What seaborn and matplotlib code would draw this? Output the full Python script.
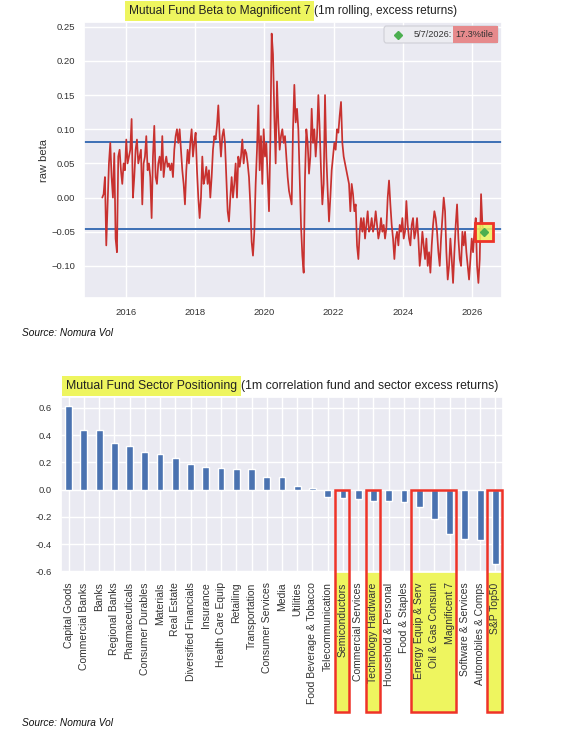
import numpy as np
import pandas as pd
import matplotlib
matplotlib.use("Agg")
import matplotlib.pyplot as plt
import matplotlib.dates as mdates
import matplotlib.ticker as mticker
import matplotlib.transforms as mtransforms
from matplotlib.patches import Rectangle, FancyBboxPatch
from matplotlib.lines import Line2D
import seaborn as sns

# ---------------- data: top chart ----------------
beta_start = "2015-04-25"
beta_end = "2026-05-07"
beta_values = [
    0.0, 0.005, 0.03, -0.07, -0.01, 0.05, 0.08, 0.03, 0.0, 0.065, -0.06, -0.08, 0.06, 0.07, 0.04,
    0.02, 0.05, 0.04, 0.085, 0.05, 0.06, 0.07, 0.115, 0.0, 0.03, 0.07, 0.085, 0.05, 0.06, 0.07,
    -0.01, 0.05, 0.06, 0.09, 0.04, 0.05, 0.03, -0.03, 0.06, 0.105, 0.03, 0.02, 0.05, 0.06, 0.04,
    0.09, 0.03, 0.05, 0.06, 0.045, 0.05, 0.04, 0.05, 0.03, 0.07, 0.09, 0.1, 0.08, 0.1, 0.07,
    0.04, 0.02, -0.01, 0.04, 0.07, 0.05, 0.08, 0.1, 0.06, 0.08, 0.095, 0.04, 0.0, -0.03, 0.0,
    0.06, 0.02, 0.03, 0.045, 0.02, 0.04, 0.0, 0.03, 0.07, 0.09, 0.085, 0.105, 0.135, 0.09, 0.06,
    0.09, 0.1, 0.08, 0.03, -0.02, -0.035, 0.0, 0.03, 0.0, 0.02, 0.05, 0.0, 0.06, 0.045, 0.06,
    0.085, 0.05, 0.07, 0.065, 0.05, 0.03, -0.01, -0.065, -0.085, -0.05, 0.02, 0.07, 0.135, 0.04, 0.09,
    0.02, 0.1, 0.06, 0.08, 0.03, -0.02, 0.08, 0.24, 0.21, 0.12, 0.05, 0.17, 0.11, 0.07, 0.09,
    0.1, 0.08, 0.09, 0.06, 0.03, 0.01, 0.0, -0.01, 0.1, 0.165, 0.11, 0.13, 0.1, 0.03, -0.04,
    -0.085, -0.11, 0.03, 0.1, 0.08, 0.035, 0.06, 0.13, 0.08, 0.1, 0.06, 0.09, 0.15, 0.1, 0.04,
    -0.01, 0.02, 0.15, 0.06, 0.01, -0.035, 0.0, 0.04, 0.06, 0.08, 0.07, 0.1, 0.095, 0.12, 0.14,
    0.08, 0.06, 0.05, 0.04, 0.03, 0.02, -0.02, 0.02, 0.005, -0.02, -0.01, -0.07, -0.09, -0.05, -0.03,
    -0.05, -0.03, -0.06, -0.04, -0.02, -0.05, -0.045, -0.03, -0.05, -0.04, -0.02, -0.04, -0.06, -0.05, -0.03,
    -0.05, -0.04, -0.06, -0.045, 0.0, 0.025, -0.01, -0.04, -0.06, -0.09, -0.06, -0.05, -0.07, -0.04, -0.05,
    -0.03, -0.06, -0.05, -0.005, -0.04, -0.06, -0.07, -0.04, -0.03, -0.06, -0.05, -0.03, -0.06, -0.1, -0.08,
    -0.05, -0.07, -0.09, -0.06, -0.1, -0.08, -0.11, -0.07, -0.04, -0.02, -0.03, -0.05, -0.08, -0.1, -0.06,
    -0.03, 0.0, -0.02, -0.08, -0.12, -0.1, -0.06, -0.09, -0.125, -0.08, -0.04, -0.01, -0.06, -0.09, -0.1,
    -0.05, -0.07, -0.05, -0.08, -0.1, -0.12, -0.09, -0.06, -0.08, -0.05, -0.03, -0.1, -0.125, -0.09, 0.005,
    -0.04, -0.05,
]
upper_band = 0.081
lower_band = -0.046
latest_date_label = "5/7/2026:"
latest_pct_label = "17.3%tile"
beta_yticks = [-0.10, -0.05, 0.00, 0.05, 0.10, 0.15, 0.20, 0.25]

# ---------------- data: bottom chart ----------------
sectors = [
    "Capital Goods", "Commercial Banks", "Banks", "Regional Banks", "Pharmaceuticals",
    "Consumer Durables", "Materials", "Real Estate", "Diversified Financials", "Insurance",
    "Health Care Equip", "Retailing", "Transportation", "Consumer Services", "Media",
    "Utilities", "Food Beverage & Tobacco", "Telecommunication", "Semiconductors",
    "Commercial Services", "Technology Hardware", "Household & Personal", "Food & Staples",
    "Energy Equip & Serv", "Oil & Gas Consum", "Magnificent 7", "Software & Services",
    "Automobiles & Comps", "S&P Top50",
]
sector_corr = [
    0.615, 0.438, 0.438, 0.344, 0.317, 0.275, 0.261, 0.234, 0.187, 0.167,
    0.157, 0.152, 0.148, 0.093, 0.093, 0.025, 0.012, -0.054, -0.059, -0.071,
    -0.086, -0.084, -0.091, -0.125, -0.216, -0.325, -0.361, -0.371, -0.543,
]
highlight_groups = [
    ("Semiconductors", "Semiconductors"),
    ("Technology Hardware", "Technology Hardware"),
    ("Energy Equip & Serv", "Magnificent 7"),
    ("S&P Top50", "S&P Top50"),
]
sector_yticks = [-0.6, -0.4, -0.2, 0.0, 0.2, 0.4, 0.6]

# ---------------- style ----------------
sns.set_theme(style="darkgrid")
plt.rcParams["font.family"] = ["Liberation Sans", "DejaVu Sans"]

YELLOW = "#eef55f"
PINK = "#e68a8c"
RED_BOX = "#ee3328"
LINE_RED = "#c8312f"
BAND_BLUE = "#3d6fb5"
BAR_BLUE = "#4a72b0"
TEXT = "#333333"

W_PX, H_PX = 576, 746
fig = plt.figure(figsize=(W_PX / 100, H_PX / 100), dpi=100)
ax1 = fig.add_axes([84 / W_PX, 1 - 298 / H_PX, 418 / W_PX, 276 / H_PX])
ax2 = fig.add_axes([61 / W_PX, 1 - 572 / H_PX, 442 / W_PX, 175 / H_PX])

# ---------------- top chart ----------------
beta_df = pd.DataFrame({
    "date": pd.date_range(beta_start, beta_end, periods=len(beta_values)),
    "beta": beta_values,
})
sns.lineplot(data=beta_df, x="date", y="beta", ax=ax1, color=LINE_RED, lw=1.25, zorder=3)
ax1.axhline(upper_band, color=BAND_BLUE, lw=1.4, zorder=2)
ax1.axhline(lower_band, color=BAND_BLUE, lw=1.4, zorder=2)
last = beta_df.iloc[-1]
ax1.plot([last["date"]], [last["beta"]], marker="s", ms=13, mfc=(0.93, 0.96, 0.37, 0.85),
         mec=RED_BOX, mew=2, ls="none", zorder=4)
ax1.plot([last["date"]], [last["beta"]], marker="D", ms=4.5, color="#4caf50", ls="none", zorder=5)

ax1.set_xlim(pd.Timestamp("2014-10-14"), pd.Timestamp("2026-11-16"))
ax1.set_ylim(-0.147, 0.257)
ax1.set_yticks(beta_yticks)
ax1.xaxis.set_major_locator(mdates.YearLocator(2))
ax1.xaxis.set_major_formatter(mdates.DateFormatter("%Y"))
ax1.tick_params(labelsize=6.8, colors=TEXT, length=0)
ax1.tick_params(axis="x", pad=7)
ax1.tick_params(axis="y", pad=6.5)
ax1.set_xlabel("")
ax1.set_ylabel("raw beta", fontsize=8, color=TEXT, labelpad=1.5)

# legend-like box (drawn in pixel positions of the figure)
def px(x, y):
    return x / W_PX, 1 - y / H_PX

lx0, lx1, ly0, ly1 = 384, 498, 26, 43
fig.add_artist(FancyBboxPatch(px(lx0, ly1), (lx1 - lx0) / W_PX, (ly1 - ly0) / H_PX,
                              boxstyle="round,pad=0,rounding_size=0.004",
                              transform=fig.transFigure, facecolor="#ececf1",
                              edgecolor="#cfcfd6", lw=0.8, zorder=5))
fig.add_artist(Rectangle(px(453, ly1 - 0.5), (497.5 - 453) / W_PX, (ly1 - ly0 - 1) / H_PX,
                         transform=fig.transFigure, facecolor=PINK, edgecolor="none", zorder=6))
fig.add_artist(Line2D([px(398, 0)[0]], [px(0, 34.5)[1]], marker="D", ms=4.5, color="#4caf50",
                      ls="none", transform=fig.transFigure, zorder=7))
fig.text(*px(414, 34.5), latest_date_label, fontsize=6.6, va="center", ha="left", color=TEXT, zorder=7)
fig.text(*px(455.5, 34.5), latest_pct_label, fontsize=6.6, va="center", ha="left", color=TEXT, zorder=7)

# ---------------- bottom chart ----------------
sns.barplot(x=sectors, y=sector_corr, ax=ax2, color=BAR_BLUE, saturation=1, width=0.45, zorder=2)
ax2.xaxis.grid(True)
ax2.set_xlim(-0.5, len(sectors) - 0.5)
ax2.set_ylim(-0.605, 0.68)
ax2.set_yticks(sector_yticks)
ax2.yaxis.set_major_formatter(mticker.FormatStrFormatter("%.1f"))
ax2.tick_params(axis="x", labelrotation=90, labelsize=7.5, colors=TEXT, pad=7.5, length=0)
ax2.tick_params(axis="y", labelsize=6.8, colors=TEXT, pad=6.5, length=0)

fig.canvas.draw()
renderer = fig.canvas.get_renderer()

# highlight boxes (x in data, y in figure fraction)
blend = mtransforms.blended_transform_factory(ax2.transData, fig.transFigure)
y_zero = fig.transFigure.inverted().transform(ax2.transData.transform((0, 0)))[1]
y_axes_bottom = ax2.get_position().y0
y_box_bottom = 1 - 712 / H_PX
for first, lastname in highlight_groups:
    i0 = sectors.index(first)
    i1 = sectors.index(lastname)
    x0 = i0 - 0.52
    wdt = (i1 + 0.42) - x0
    ax2.add_patch(Rectangle((x0, y_box_bottom), wdt, y_axes_bottom - y_box_bottom,
                            transform=blend, facecolor=YELLOW, edgecolor="none",
                            clip_on=False, zorder=0.2))
    ax2.add_patch(Rectangle((x0, y_box_bottom), wdt, y_zero - y_box_bottom,
                            transform=blend, facecolor="none", edgecolor=RED_BOX, lw=1.8,
                            clip_on=False, zorder=4))

# ---------------- titles ----------------
def highlighted_title(y_px, part1, part2, size, xcenter_px):
    y = 1 - y_px / H_PX
    t1 = fig.text(0, y, part1, fontsize=size, va="center", ha="left", color="#222222",
                  bbox=dict(facecolor=YELLOW, edgecolor="none", pad=3))
    t2 = fig.text(0, y, part2, fontsize=size, va="center", ha="left", color="#222222")
    w1 = t1.get_window_extent(renderer).width
    w2 = t2.get_window_extent(renderer).width
    gap = 4
    x0 = xcenter_px - (w1 + gap + w2) / 2
    t1.set_x(x0 / W_PX)
    t2.set_x((x0 + w1 + gap) / W_PX)

highlighted_title(11, "Mutual Fund Beta to Magnificent 7", "(1m rolling, excess returns)", 8.6, 293)
highlighted_title(386, "Mutual Fund Sector Positioning",
                  "(1m correlation fund and sector excess returns)", 8.8, 282)

# sources
fig.text(22 / W_PX, 1 - 333 / H_PX, "Source: Nomura Vol", style="italic", fontsize=7.3,
         va="center", ha="left", color="#111111")
fig.text(22 / W_PX, 1 - 723 / H_PX, "Source: Nomura Vol", style="italic", fontsize=7.3,
         va="center", ha="left", color="#111111")

fig.savefig("out.png", dpi=100, facecolor="white")
